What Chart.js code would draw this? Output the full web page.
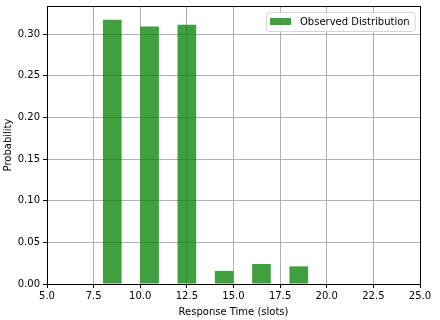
<!DOCTYPE html>
<html>
<head>
<meta charset="utf-8">
<script src="https://cdn.jsdelivr.net/npm/chart.js@4/dist/chart.umd.min.js"></script>
<style>
  html, body { margin: 0; padding: 0; background: #fff; }
  #wrap { width: 440px; height: 320px; }
</style>
</head>
<body>
<div id="wrap"><canvas id="histChart" width="440" height="320"></canvas></div>
<script>
// bin centres (slots) and observed probabilities
var binCenters = [8.5, 10.5, 12.5, 14.5, 16.5, 18.5];
var probabilities = [0.317, 0.309, 0.311, 0.0156, 0.024, 0.0212];
var seriesLabel = 'Observed Distribution';
var xTitle = 'Response Time (slots)';
var yTitle = 'Probability';
var barColor = 'rgba(0,128,0,0.75)';

Chart.defaults.font.family = "'DejaVu Sans', sans-serif";
Chart.defaults.font.size = 10;
Chart.defaults.color = '#000';

// black frame around the plot area (matplotlib spines)
var framePlugin = {
    id: 'frame',
    afterDatasetsDraw: function (chart) {
        var a = chart.chartArea, c = chart.ctx;
        c.save();
        c.strokeStyle = '#000';
        c.lineWidth = 1;
        c.strokeRect(Math.round(a.left) + 0.5, Math.round(a.top) + 0.5,
            Math.round(a.right - a.left), Math.round(a.bottom - a.top));
        c.restore();
    }
};

// matplotlib-like legend in the upper right corner of the axes
var legendPlugin = {
    id: 'mplLegend',
    afterDraw: function (chart) {
        var a = chart.chartArea, c = chart.ctx;
        var ds = chart.data.datasets[0];
        c.save();
        c.font = "10px 'DejaVu Sans', sans-serif";
        var tw = c.measureText(ds.label).width;
        var w = tw + 4 + 21 + 9 + 5, h = 19;
        var x = Math.round(a.right - 5 - w), y = Math.round(a.top + 6);
        c.fillStyle = 'rgba(255,255,255,0.8)';
        c.strokeStyle = '#d6d6d6';
        c.lineWidth = 1;
        c.beginPath();
        c.roundRect(x + 0.5, y + 0.5, w, h, 3);
        c.fill();
        c.stroke();
        c.fillStyle = ds.backgroundColor;
        c.fillRect(x + 4, y + 6, 21, 7);
        c.fillStyle = '#000';
        c.textBaseline = 'middle';
        c.fillText(ds.label, x + 34, y + h / 2 + 0.5);
        c.restore();
    }
};

var ctx = document.getElementById('histChart').getContext('2d');
new Chart(ctx, {
    type: 'bar',
    data: {
        datasets: [{
            label: seriesLabel,
            data: binCenters.map(function (x, i) { return { x: x, y: probabilities[i] }; }),
            backgroundColor: barColor,
            borderWidth: 0,
            barPercentage: 0.5,
            categoryPercentage: 1.0
        }]
    },
    options: {
        responsive: false,
        animation: false,
        layout: { padding: { top: 6, right: 20, left: 0, bottom: 0 } },
        plugins: {
            legend: { display: false },
            tooltip: { enabled: false }
        },
        scales: {
            x: {
                type: 'linear',
                min: 5,
                max: 25,
                offset: false,
                afterFit: function (s) { s.height = 36; s.paddingLeft = 0; s.paddingRight = 0; },
                ticks: {
                    stepSize: 2.5,
                    padding: 2,
                    maxRotation: 0,
                    callback: function (v) { return v.toFixed(1); }
                },
                grid: { offset: false, color: '#b0b0b0', tickColor: '#000', tickLength: 4, lineWidth: 1 },
                border: { display: false },
                title: { display: true, text: xTitle, padding: { top: 0, bottom: 2 } }
            },
            y: {
                min: 0,
                max: 0.3336,
                afterFit: function (s) { s.width = 47; s.paddingTop = 0; s.paddingBottom = 0; },
                afterBuildTicks: function (s) {
                    s.ticks = s.ticks.filter(function (t) { return t.value <= 0.3 + 1e-9; });
                },
                ticks: {
                    stepSize: 0.05,
                    padding: 3,
                    callback: function (v) { return v.toFixed(2); }
                },
                grid: { color: '#b0b0b0', tickColor: '#000', tickLength: 4, lineWidth: 1 },
                border: { display: false },
                title: { display: true, text: yTitle, padding: { top: 2, bottom: 4 } }
            }
        }
    },
    plugins: [framePlugin, legendPlugin]
});
</script>
</body>
</html>
